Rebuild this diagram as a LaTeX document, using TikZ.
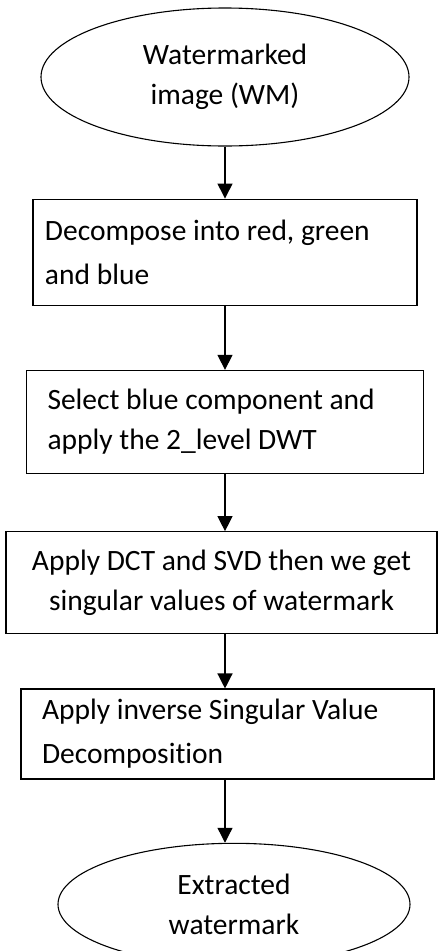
\documentclass[tikz,border=0pt]{standalone}
\usepackage{fontspec}
\setmainfont{Carlito}[Ligatures=NoCommon]
\usetikzlibrary{arrows.meta,positioning,shapes}

\begin{document}
\begin{tikzpicture}[
    x=1pt, y=1pt,
    node distance=52pt,
    font=\fontsize{29.5}{40}\selectfont,
    box/.style={rectangle, draw, line width=1.3pt, align=flush left, inner xsep=21pt, inner ysep=4pt},
    oval/.style={ellipse, draw, line width=1.1pt, align=center, inner sep=0pt},
    arrow/.style={-{Triangle[length=15pt,width=15pt]}, line width=1.3pt}
  ]

    \useasboundingbox (0,0) rectangle (437,-951);

    \node[oval, minimum width=368pt, minimum height=138pt] (wm) at (225,-77) {Watermarked\\image (WM)};

    \node[box, text width=360pt, inner xsep=12pt, minimum height=106pt, below=52pt of wm] (decomp) {Decompose into red, green\\[4pt]and blue};
    \node[box, text width=355pt, minimum height=103pt, below=64pt of decomp] (select) {Select blue component and\\apply the 2\_level DWT};
    \node[box, align=flush center, text width=411pt, inner xsep=10pt, minimum height=102pt, below=57pt of select, xshift=-3.5pt] (svd) {Apply DCT and SVD then we get\\singular values of watermark};
    \node[box, text width=371pt, minimum height=90pt, below=54pt of svd, xshift=6pt] (inv) {Apply inverse Singular Value\\[4pt]Decomposition};

    \node[oval, minimum width=352pt, minimum height=122pt, below=63pt of inv, xshift=6.5pt] (ext) {Extracted\\watermark};

    % all arrows on one vertical line
    \draw[arrow] (wm.south) -- (decomp.north -| wm);
    \draw[arrow] (decomp.south -| wm) -- (select.north -| wm);
    \draw[arrow] (select.south -| wm) -- (svd.north -| wm);
    \draw[arrow] (svd.south -| wm) -- (inv.north -| wm);
    \draw[arrow] (inv.south -| wm) -- (ext.north -| wm);

  \end{tikzpicture}
\end{document}
